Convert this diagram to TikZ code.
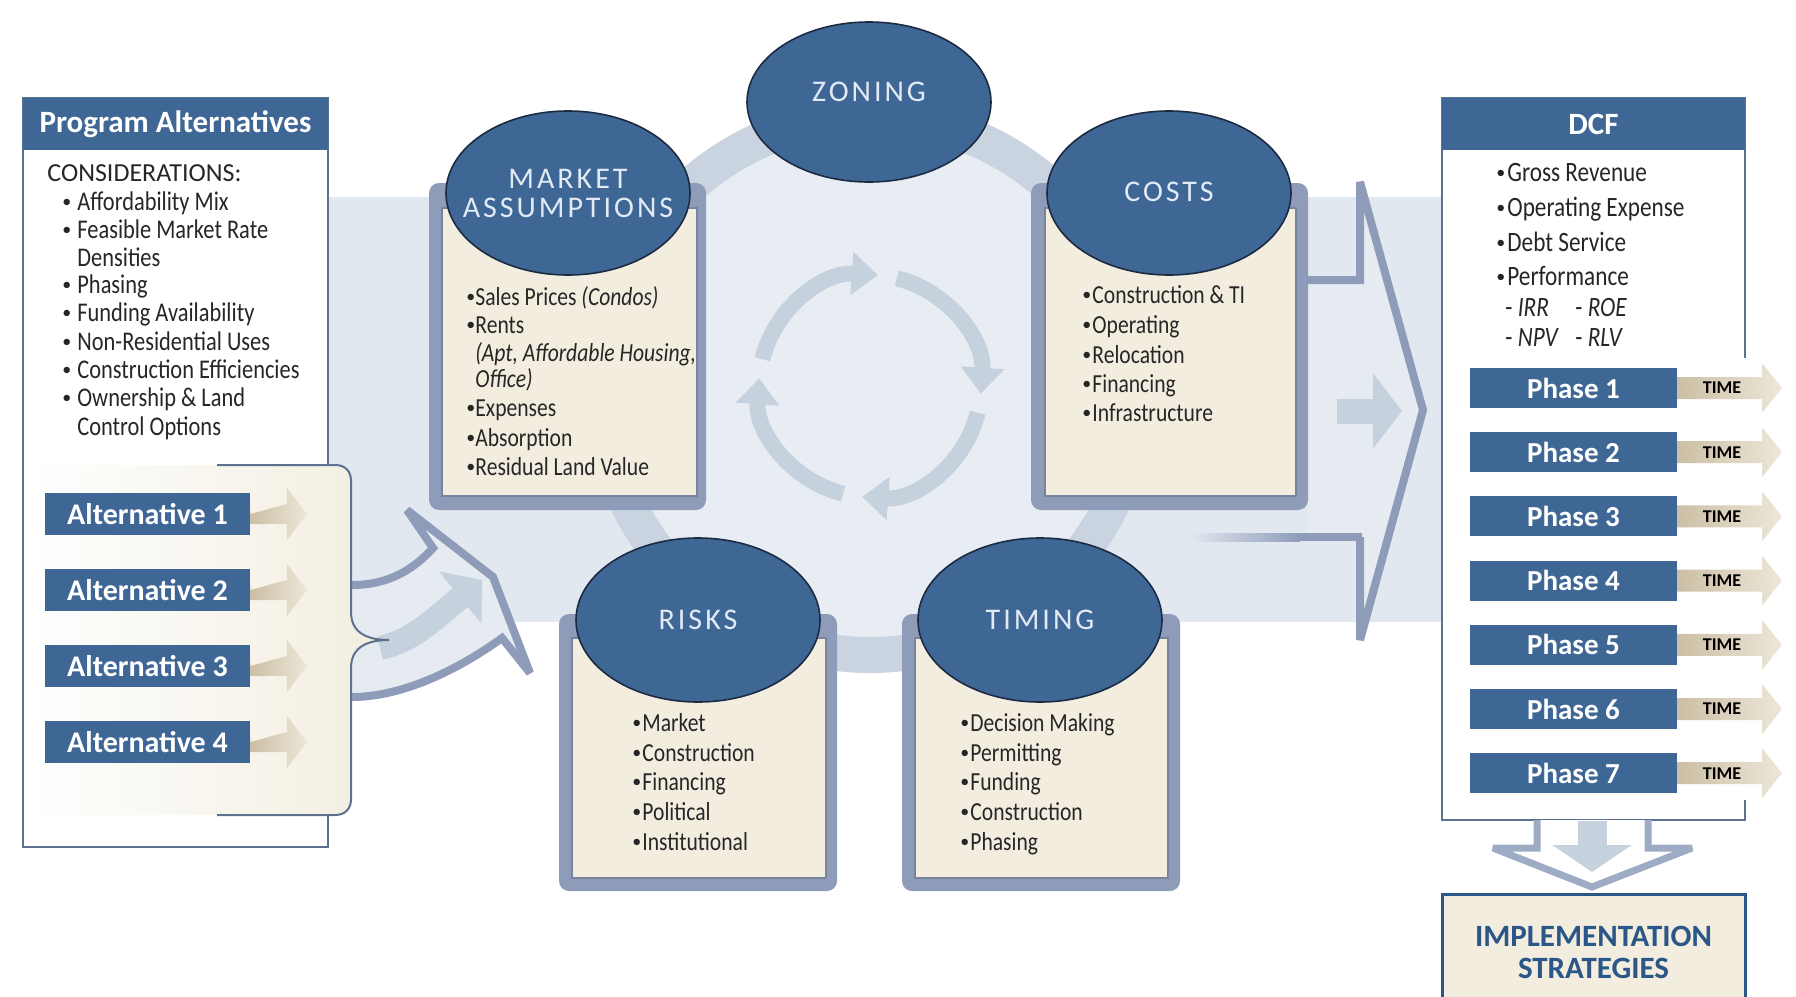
\documentclass[tikz,border=0pt]{standalone}
\usepackage{fontspec}
\setmainfont{Carlito}
\newfontfamily\itemf{Carlito}[FakeStretch=0.83]
\newfontfamily\capf{Carlito}[LetterSpace=10]
\usetikzlibrary{arrows.meta,shapes.geometric}
\definecolor{dblue}{HTML}{3F6795}
\definecolor{navy}{HTML}{1C2A42}
\definecolor{framec}{HTML}{8E9CB9}
\definecolor{framecb}{HTML}{9EABC4}
\definecolor{cream}{HTML}{F2EDDF}
\definecolor{creamln}{HTML}{76849C}
\definecolor{band}{HTML}{E2E8F0}
\definecolor{ringc}{HTML}{CAD4E0}
\definecolor{innerc}{HTML}{E8EDF4}
\definecolor{arrowc}{HTML}{C6D1DE}
\definecolor{arrowfill}{HTML}{E6EBF2}
\definecolor{panelb}{HTML}{5D7290}
\definecolor{tanL}{HTML}{CBBFA4}
\definecolor{tanR}{HTML}{EDE7D9}
\definecolor{txt}{HTML}{262626}
\definecolor{ltxt}{HTML}{E1EAF5}
\definecolor{impl}{HTML}{2B5688}
\newcommand\bitem[6]{%
  \node[bul] (#2b) at (#3,#5+8) {•};
  \node[#1] (#2) at (#4,#5+8) {#6};}
\newcommand\nitem[5]{%
  \node[#1] (#2) at (#3,#4+8) {#5};}
\begin{document}
\begin{tikzpicture}[x=0.5pt,y=-0.5pt,
  ell/.style={ellipse, fill=dblue, draw=navy, line width=0.8pt, minimum width=122pt, minimum height=82pt, inner sep=0pt},
  etxt/.style={inner sep=0pt, text=ltxt, font=\capf\fontsize{15}{14.5}\selectfont, align=center},
  frm/.style={fill=framec, rounded corners=5pt},
  crm/.style={fill=cream, draw=creamln, line width=0.7pt},
  itm/.style={anchor=base west, inner sep=0pt, text=txt, font=\itemf\fontsize{13}{15}\selectfont},
  bul/.style={anchor=base west, inner sep=0pt, text=txt, font=\fontsize{9}{9}\selectfont, yshift=1.3pt},
  itmL/.style={itm, font=\itemf\fontsize{13.5}{15}\selectfont},
  itmD/.style={itm, font=\itemf\fontsize{14}{16}\selectfont},
  bwhite/.style={text=white, font=\bfseries\fontsize{15.5}{18}\selectfont, inner sep=0pt},
  altbox/.style={fill=dblue, minimum width=102.5pt, minimum height=21pt, inner sep=0pt, text=white, font=\bfseries\fontsize{15}{18}\selectfont},
  phbox/.style={fill=dblue, minimum width=103.5pt, minimum height=20pt, inner sep=0pt, text=white, font=\bfseries\fontsize{14.5}{18}\selectfont},
  cyc/.style={arrowc, line width=8pt, -{Triangle[width=21pt,length=13pt]}},
  tanarrow/.style={left color=tanL, right color=tanR},
  outl/.style={draw=framec, line width=4pt, line join=miter, miter limit=4},
]
\useasboundingbox (0,0) rectangle (1796,997);
\fill[white] (0,0) rectangle (1796,997);

% background band
\fill[band] (328,197) rectangle (1443,622);

% big ring
\coordinate (cc) at (870,386);
\draw[ringc, line width=18pt, fill=innerc] (cc) circle[radius=134.5pt];

% cycle arrows
\draw[cyc] ([shift={(76:55.5pt)}]cc) arc[start angle=76, end angle=-4, radius=55.5pt];
\draw[cyc] ([shift={(-14:55.5pt)}]cc) arc[start angle=-14, end angle=-94, radius=55.5pt];
\draw[cyc] ([shift={(-104:55.5pt)}]cc) arc[start angle=-104, end angle=-184, radius=55.5pt];
\draw[cyc] ([shift={(-194:55.5pt)}]cc) arc[start angle=-194, end angle=-274, radius=55.5pt];

% left curved arrow
\filldraw[fill=arrowfill, outl]
  (352,585) .. controls (390,585) and (415,568) .. (433,548) -- (407,510) -- (493,577) -- (530,673) -- (502,638)
  .. controls (455,672) and (400,697) .. (352,697);
\draw[arrowc, line width=12pt, -{Triangle[width=33pt,length=14pt]}]
  (380,648) .. controls (415,640) and (435,618) .. (482,580);

% right big arrow
\fill[arrowfill] (1308,280) -- (1360,280) -- (1360,182) -- (1423,410) -- (1360,640) -- (1360,537) -- (1308,537) -- cycle;
\shade[left color=band, right color=framec] (1190,533) rectangle (1300,541);
\fill[framec] (1299,533) rectangle (1362,541);
\draw[outl] (1300,280) -- (1360,280) -- (1360,182) -- (1423,410) -- (1360,640) -- (1360,537);
\draw[arrowc, line width=12.5pt, -{Triangle[width=37pt,length=14.5pt]}] (1337,411) -- (1402,411);

% Program Alternatives panel
\filldraw[fill=white, draw=panelb, line width=1.2pt] (23,98) rectangle (328,847);
\fill[dblue] (23,98) rectangle (328,150);
\node[bwhite] (pa) at (175.5,124) {Program Alternatives};
\node[anchor=base west, inner sep=0pt, text=txt, font=\fontsize{13}{15}\selectfont] (cons) at (47,181) {CONSIDERATIONS:};
\bitem{itmL}{pa1}{62}{77}{202}{Affordability Mix}
\bitem{itmL}{pa2}{62}{77}{230}{Feasible Market Rate}
\nitem{itmL}{pa3}{77}{258}{Densities}
\bitem{itmL}{pa4}{62}{77}{285}{Phasing}
\bitem{itmL}{pa5}{62}{77}{313}{Funding Availability}
\bitem{itmL}{pa6}{62}{77}{342}{Non-Residential Uses}
\bitem{itmL}{pa7}{62}{77}{370}{Construction Efficiencies}
\bitem{itmL}{pa8}{62}{77}{398}{Ownership \& Land}
\nitem{itmL}{pa9}{77}{427}{Control Options}

% brace region
\shade[left color=white, right color=cream]
  (25,465) -- (335,465) .. controls (345,465) and (351,471) .. (351,481) -- (351,612)
  .. controls (351,632) and (366,640) .. (389,640) .. controls (366,640) and (351,648) .. (351,668)
  -- (351,799) .. controls (351,809) and (345,815) .. (335,815) -- (25,815) -- cycle;
\draw[panelb, line width=1pt]
  (217,465) -- (335,465) .. controls (345,465) and (351,471) .. (351,481) -- (351,612)
  .. controls (351,632) and (366,640) .. (389,640) .. controls (366,640) and (351,648) .. (351,668)
  -- (351,799) .. controls (351,809) and (345,815) .. (335,815) -- (217,815);

\foreach \y [count=\i] in {514,590,666,742} {
  \node[altbox] (alt\i) at (147.5,\y) {Alternative \i};
  \shade[tanarrow] (alt\i.east) -- (287,\y-10) -- (287,\y-26) -- (307,\y) -- (287,\y+26) -- (287,\y+10) -- (250,\y+10) -- (250,\y-10) -- cycle;
}

% boxes
\fill[frm] (429,183) rectangle (706,510);
\filldraw[crm] (442,208) rectangle (697,496);
\fill[frm] (1031,183) rectangle (1308,510);
\filldraw[crm] (1045,208) rectangle (1296,496);
\fill[frm] (559,614) rectangle (837,891);
\filldraw[crm] (572,638) rectangle (826,878);
\fill[frm] (902,614) rectangle (1180,891);
\filldraw[crm] (915,638) rectangle (1168,878);

% ellipses
\node[ell, minimum height=80pt] (zoning) at (869,102) {};
\node[etxt] (zoningT) at (869,92) {ZONING};
\node[ell] (market) at (568,193) {};
\node[etxt] (marketT) at (568,193) {MARKET\\ASSUMPTIONS};
\node[ell] (costs) at (1169,193) {};
\node[etxt] (costsT) at (1169,192) {COSTS};
\node[ell] (risks) at (698,620) {};
\node[etxt] (risksT) at (698,620) {RISKS};
\node[ell] (timing) at (1040,620) {};
\node[etxt] (timingT) at (1040,620) {TIMING};

% market items
\bitem{itm}{ma1}{466}{475}{297}{Sales Prices \textit{(Condos)}}
\bitem{itm}{ma2}{466}{475}{325}{Rents}
\nitem{itm}{ma3}{475}{353}{\textit{(Apt, Affordable Housing,}}
\nitem{itm}{ma4}{475}{379}{\textit{Office)}}
\bitem{itm}{ma5}{466}{475}{408}{Expenses}
\bitem{itm}{ma6}{466}{475}{438}{Absorption}
\bitem{itm}{ma7}{466}{475}{467}{Residual Land Value}

% costs items
\bitem{itm}{co1}{1082}{1092}{295}{Construction \& TI}
\bitem{itm}{co2}{1082}{1092}{325}{Operating}
\bitem{itm}{co3}{1082}{1092}{355}{Relocation}
\bitem{itm}{co4}{1082}{1092}{384}{Financing}
\bitem{itm}{co5}{1082}{1092}{413}{Infrastructure}

% risks items
\bitem{itm}{ri1}{632}{642}{723}{Market}
\bitem{itm}{ri2}{632}{642}{753}{Construction}
\bitem{itm}{ri3}{632}{642}{782}{Financing}
\bitem{itm}{ri4}{632}{642}{812}{Political}
\bitem{itm}{ri5}{632}{642}{842}{Institutional}

% timing items
\bitem{itm}{ti1}{960}{970}{723}{Decision Making}
\bitem{itm}{ti2}{960}{970}{753}{Permitting}
\bitem{itm}{ti3}{960}{970}{782}{Funding}
\bitem{itm}{ti4}{960}{970}{812}{Construction}
\bitem{itm}{ti5}{960}{970}{842}{Phasing}

% DCF panel
\fill[white] (1442,98) rectangle (1745,820);
\draw[panelb, line width=1.2pt] (1745,358) -- (1745,98) -- (1442,98) -- (1442,820) -- (1745,820) -- (1745,800);
\fill[dblue] (1442,98) rectangle (1745,150);
\node[bwhite] (dcf) at (1593.5,124) {DCF};
\bitem{itmD}{dc1}{1496}{1507}{173}{Gross Revenue}
\bitem{itmD}{dc2}{1496}{1507}{208}{Operating Expense}
\bitem{itmD}{dc3}{1496}{1507}{243}{Debt Service}
\bitem{itmD}{dc4}{1496}{1507}{277}{Performance}
\nitem{itmD}{dc5}{1505}{308}{- \textit{IRR}}
\nitem{itmD}{dc6}{1575}{308}{- \textit{ROE}}
\nitem{itmD}{dc7}{1505}{338}{- \textit{NPV}}
\nitem{itmD}{dc8}{1575}{338}{- \textit{RLV}}

\foreach \i in {1,...,7} {
  \pgfmathsetmacro\c{388+64.2*(\i-1)}
  \node[phbox] (ph\i) at (1573.5,\c) {Phase \i};
  \shade[tanarrow] (1677,\c-11) -- (1762,\c-11) -- (1762,\c-25) -- (1782,\c) -- (1762,\c+25) -- (1762,\c+11) -- (1677,\c+11) -- cycle;
  \node[inner sep=0pt, text=black, font=\bfseries\fontsize{9}{10}\selectfont] (time\i) at (1722,\c) {TIME};
}

% down arrow
\filldraw[fill=white, draw=framecb, line width=3.5pt, line join=miter, miter limit=4] (1537,820) -- (1537,848) -- (1493,848) -- (1592,887) -- (1692,848) -- (1648,848) -- (1648,820);
\draw[arrowc, line width=14.5pt, -{Triangle[width=39pt,length=13.5pt]}] (1592,821) -- (1592,872);

% implementation strategies
\node[draw=impl, line width=1.5pt, fill=cream, minimum width=151.5pt, minimum height=57.5pt, inner sep=0pt,
  text=impl, font=\bfseries\fontsize{15.5}{16}\selectfont, align=center] (impl) at (1593.5,952) {IMPLEMENTATION\\STRATEGIES};
\end{tikzpicture}
\end{document}
